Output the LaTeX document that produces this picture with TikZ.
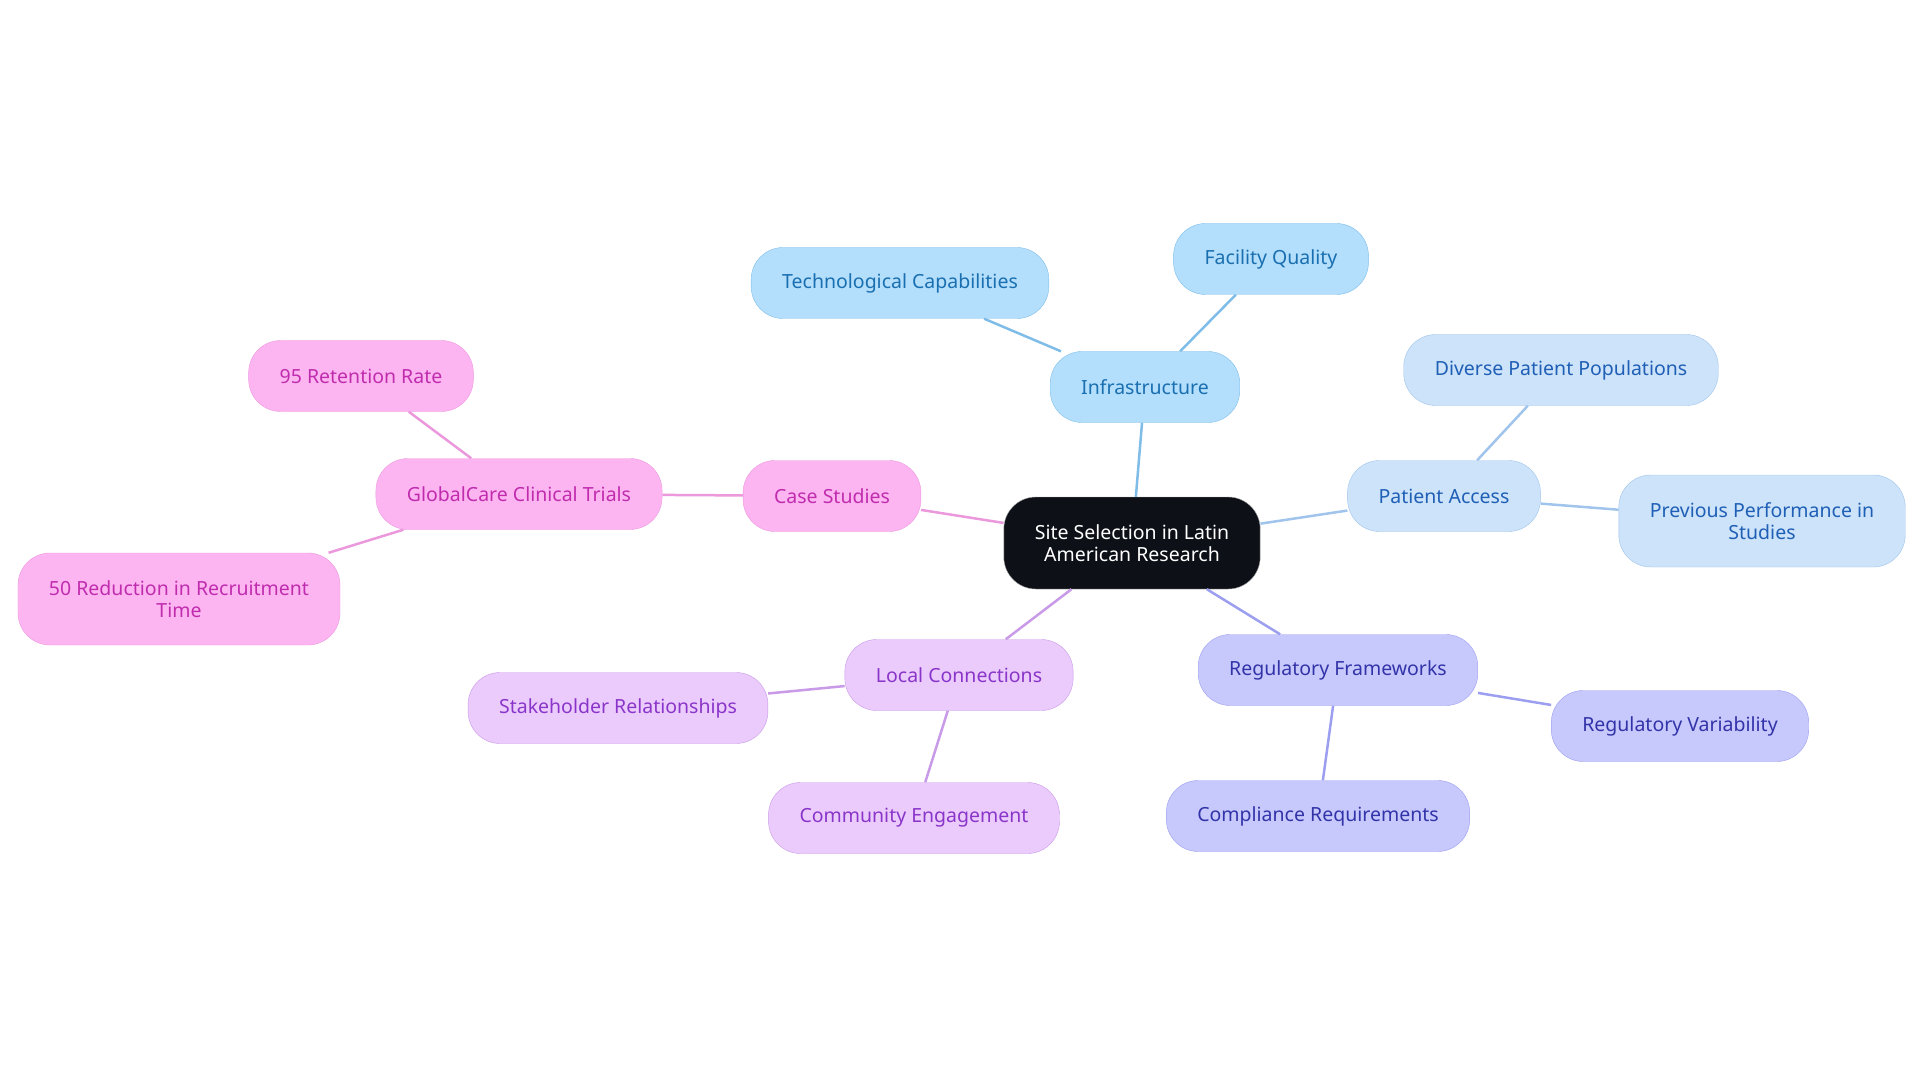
\documentclass[tikz,border=0pt]{standalone}
\usepackage{fontspec}
\setmainfont{Noto Sans}
\usepackage{tikz}

\definecolor{rootfill}{HTML}{0D1117}
\definecolor{infofill}{HTML}{B3DFFC}\definecolor{infoline}{HTML}{7FBDE8}\definecolor{infotext}{HTML}{1A6FB0}
\definecolor{patfill}{HTML}{CCE3FA}\definecolor{patline}{HTML}{A0C4EC}\definecolor{pattext}{HTML}{1F5FB5}
\definecolor{regfill}{HTML}{C7C9FC}\definecolor{regline}{HTML}{9C9EF0}\definecolor{regtext}{HTML}{3233A8}
\definecolor{locfill}{HTML}{EBCBFC}\definecolor{locline}{HTML}{C99AE8}\definecolor{loctext}{HTML}{8A35C9}
\definecolor{casefill}{HTML}{FDB5F1}\definecolor{caseline}{HTML}{EB98DD}\definecolor{casetext}{HTML}{C02CAE}

\begin{document}
\begin{tikzpicture}[x=1pt, y=-1pt,
    every node/.style={rounded corners=32pt, draw, minimum height=71pt, inner xsep=31pt,
      font=\fontsize{19.5}{22}\selectfont, align=center},
    leaf/.style={fill=#1fill, draw=#1line, text=#1text},
    link/.style={draw=#1line, line width=2.5pt}]
    \useasboundingbox (0,0) rectangle (1920,1083);
    \node[fill=rootfill, draw=gray!70, text=white, minimum height=92pt] (root) at (1132,543) {Site Selection in Latin\\American Research};
    \node[leaf=info] (infra) at (1145,387) {Infrastructure};
    \node[leaf=info] (tech) at (900,283) {Technological Capabilities};
    \node[leaf=info] (fac) at (1271,259) {Facility Quality};
    \node[leaf=pat] (pat) at (1444,496) {Patient Access};
    \node[leaf=pat] (div) at (1561,370) {Diverse Patient Populations};
    \node[leaf=pat, minimum height=92pt] (prev) at (1762,521) {Previous Performance in\\Studies};
    \node[leaf=reg] (reg) at (1338,670) {Regulatory Frameworks};
    \node[leaf=reg] (var) at (1680,726) {Regulatory Variability};
    \node[leaf=reg] (comp) at (1318,816) {Compliance Requirements};
    \node[leaf=loc] (loc) at (959,675) {Local Connections};
    \node[leaf=loc] (stake) at (618,708) {Stakeholder Relationships};
    \node[leaf=loc] (comm) at (914,818) {Community Engagement};
    \node[leaf=case] (case) at (832,496) {Case Studies};
    \node[leaf=case] (gc) at (519,494) {GlobalCare Clinical Trials};
    \node[leaf=case] (ret) at (361,376) {95 Retention Rate};
    \node[leaf=case, minimum height=92pt] (red) at (179,599) {50 Reduction in Recruitment\\Time};
    \draw[link=info] (root)--(infra)--(tech);
    \draw[link=info] (infra)--(fac);
    \draw[link=pat] (root)--(pat)--(div);
    \draw[link=pat] (pat)--(prev);
    \draw[link=reg] (root)--(reg)--(var);
    \draw[link=reg] (reg)--(comp);
    \draw[link=loc] (root)--(loc)--(stake);
    \draw[link=loc] (loc)--(comm);
    \draw[link=case] (root)--(case)--(gc)--(ret);
    \draw[link=case] (gc)--(red);
\end{tikzpicture}
\end{document}
